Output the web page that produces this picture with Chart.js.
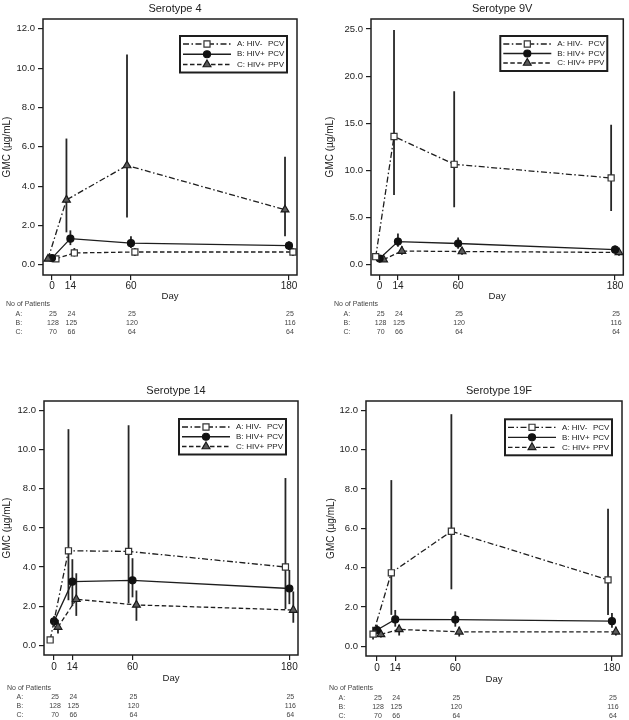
<!DOCTYPE html>
<html>
<head>
<meta charset="utf-8">
<title>GMC by serotype</title>
<script src="https://cdn.jsdelivr.net/npm/chart.js@4.4.1/dist/chart.umd.min.js"></script>
<style>
  html, body { margin:0; padding:0; background:#fff; }
  body { width:629px; height:720px; position:relative; overflow:hidden; }
  canvas { position:absolute; }
</style>
</head>
<body>
<canvas id="chart4" width="312" height="345" style="left:0px;top:0px"></canvas>
<canvas id="chart9V" width="315" height="345" style="left:314px;top:0px"></canvas>
<canvas id="chart14" width="312" height="348" style="left:0px;top:372px"></canvas>
<canvas id="chart19F" width="315" height="348" style="left:314px;top:372px"></canvas>
<script>
// ---------------- data ----------------
const days = [0, 14, 60, 180];
const xTickValues = [0, 14, 60, 180];
const groupNames = ['A: HIV-  PCV', 'B: HIV+  PCV', 'C: HIV+  PPV'];
const tableHeader = 'No of Patients';
const tableRowLabels = ['A:', 'B:', 'C:'];
const patientsA = [25, 24, 25, 25];
const patientsB = [128, 125, 120, 116];
const patientsC = [70, 66, 64, 64];
const yTicks12 = [0, 2, 4, 6, 8, 10, 12];
const yTicks25 = [0, 5, 10, 15, 20, 25];
const yAxisTitle = 'GMC (\u00b5g/mL)';
const xAxisTitle = 'Day';

// Serotype 4
const s4_title = 'Serotype 4';
const s4_gmcA  = [0.30, 3.30, 5.05, 2.80];
const s4_lowA  = [0.24, 1.65, 2.40, 1.45];
const s4_highA = [0.38, 6.42, 10.70, 5.50];
const s4_gmcB  = [0.34, 1.33, 1.10, 0.97];
const s4_lowB  = [0.28, 1.00, 0.85, 0.75];
const s4_highB = [0.42, 1.75, 1.45, 1.20];
const s4_gmcC  = [0.30, 0.60, 0.65, 0.65];
const s4_lowC  = [0.25, 0.42, 0.45, 0.45];
const s4_highC = [0.36, 0.85, 0.85, 0.85];

// Serotype 9V
const s9V_title = 'Serotype 9V';
const s9V_gmcA  = [0.85, 13.60, 10.65, 9.20];
const s9V_lowA  = [0.65, 7.40, 6.10, 5.70];
const s9V_highA = [1.10, 24.90, 18.40, 14.85];
const s9V_gmcB  = [0.65, 2.45, 2.25, 1.60];
const s9V_lowB  = [0.50, 1.90, 1.70, 1.20];
const s9V_highB = [0.80, 3.30, 2.90, 2.05];
const s9V_gmcC  = [0.55, 1.45, 1.40, 1.30];
const s9V_lowC  = [0.45, 1.05, 1.05, 0.95];
const s9V_highC = [0.68, 1.95, 1.80, 1.70];

// Serotype 14
const s14_title = 'Serotype 14';
const s14_gmcA  = [0.27, 4.83, 4.80, 4.00];
const s14_lowA  = [0.20, 2.30, 2.15, 1.85];
const s14_highA = [0.35, 11.05, 11.25, 8.55];
const s14_gmcB  = [1.22, 3.25, 3.32, 2.90];
const s14_lowB  = [0.95, 2.00, 2.45, 2.10];
const s14_highB = [1.50, 4.40, 4.45, 3.85];
const s14_gmcC  = [0.93, 2.35, 2.06, 1.80];
const s14_lowC  = [0.60, 1.50, 1.25, 1.15];
const s14_highC = [1.30, 3.68, 2.80, 2.75];

// Serotype 19F
const s19F_title = 'Serotype 19F';
const s19F_gmcA  = [0.62, 3.74, 5.85, 3.38];
const s19F_lowA  = [0.35, 1.60, 2.90, 1.60];
const s19F_highA = [1.00, 8.45, 11.80, 7.00];
const s19F_gmcB  = [0.83, 1.37, 1.36, 1.28];
const s19F_lowB  = [0.62, 1.00, 1.00, 0.95];
const s19F_highB = [1.10, 1.85, 1.78, 1.70];
const s19F_gmcC  = [0.61, 0.86, 0.74, 0.74];
const s19F_lowC  = [0.45, 0.55, 0.50, 0.55];
const s19F_highC = [0.80, 1.10, 1.00, 1.00];

// ---------------- styles / layout ----------------
const FONT = '"Liberation Sans", Arial, Helvetica, sans-serif';
Chart.defaults.font.family = FONT;
const INK = '#1e1e1e';
const lineDashes = [[6, 2.5, 1.5, 2.5], [], [4.5, 2.5]];
const shiftDays = [-3, 0, 3];
const markerLook = {
  rect:     { radius: 4.3, fill: '#ffffff', stroke: '#333333' },
  circle:   { radius: 3.5, fill: '#111111', stroke: '#111111' },
  triangle: { radius: 4.5, fill: '#5a5a5a', stroke: '#1a1a1a' }
};
const legendMarkers = ['rect', 'circle', 'triangle'];

const panels = [
  { id: 'chart4', title: s4_title, cx: 0, cy: 0, cw: 312, ch: 345, L: 43, T: 19, R: 297, B: 275,
    xMin: -6.8, xMax: 186.1, yMin: -0.52, yMax: 12.5, yTicks: yTicks12, yTitlePad: 1, dayPad: 3, tickPad: 0,
    tableTop: 29.5, legInset: 10, legTop: 17, legH: 36.5, markers: ['triangle', 'circle', 'rect'],
    gmc: [s4_gmcA, s4_gmcB, s4_gmcC], low: [s4_lowA, s4_lowB, s4_lowC], high: [s4_highA, s4_highB, s4_highC] },
  { id: 'chart9V', title: s9V_title, cx: 314, cy: 0, cw: 315, ch: 345, L: 371, T: 19, R: 625, B: 275,
    xMin: -6.6, xMax: 186.3, yMin: -1.09, yMax: 26.06, yTicks: yTicks25, yTitlePad: 10.7, dayPad: 3, tickPad: 0,
    tableTop: 29.5, legInset: 16, legTop: 17, legH: 35, markers: ['rect', 'circle', 'triangle'],
    gmc: [s9V_gmcA, s9V_gmcB, s9V_gmcC], low: [s9V_lowA, s9V_lowB, s9V_lowC], high: [s9V_highA, s9V_highB, s9V_highC] },
  { id: 'chart14', title: s14_title, cx: 0, cy: 372, cw: 312, ch: 348, L: 44, T: 401, R: 298, B: 655,
    xMin: -7.7, xMax: 186.6, yMin: -0.5, yMax: 12.49, yTicks: yTicks12, yTitlePad: 1.3, dayPad: 1, tickPad: 1,
    tableTop: 33, legInset: 12, legTop: 18, legH: 35.5, markers: ['rect', 'circle', 'triangle'],
    gmc: [s14_gmcA, s14_gmcB, s14_gmcC], low: [s14_lowA, s14_lowB, s14_lowC], high: [s14_highA, s14_highB, s14_highC] },
  { id: 'chart19F', title: s19F_title, cx: 314, cy: 372, cw: 315, ch: 348, L: 366, T: 401, R: 622, B: 656,
    xMin: -8.4, xMax: 187.7, yMin: -0.49, yMax: 12.47, yTicks: yTicks12, yTitlePad: 11.7, dayPad: 1, tickPad: 1,
    tableTop: 32.5, legInset: 10, legTop: 18.3, legH: 36, markers: ['rect', 'circle', 'triangle'],
    gmc: [s19F_gmcA, s19F_gmcB, s19F_gmcC], low: [s19F_lowA, s19F_lowB, s19F_lowC], high: [s19F_highA, s19F_highB, s19F_highC] }
];

// ---------------- plugins ----------------
const errorBarPlugin = {
  id: 'errorBars',
  beforeDatasetsDraw(chart) {
    const { ctx, chartArea, scales: { x, y } } = chart;
    ctx.save();
    ctx.beginPath();
    ctx.rect(chartArea.left, chartArea.top, chartArea.right - chartArea.left, chartArea.bottom - chartArea.top);
    ctx.clip();
    ctx.strokeStyle = '#262626';
    ctx.lineWidth = 1.8;
    chart.data.datasets.forEach(ds => {
      ds.data.forEach((p, j) => {
        const px = x.getPixelForValue(p.x);
        ctx.beginPath();
        ctx.moveTo(px, y.getPixelForValue(ds.errLow[j]));
        ctx.lineTo(px, y.getPixelForValue(ds.errHigh[j]));
        ctx.stroke();
      });
    });
    ctx.restore();
  }
};

const framePlugin = {
  id: 'frame',
  afterDatasetsDraw(chart, args, opts) {
    const { ctx, chartArea } = chart;
    ctx.save();
    ctx.strokeStyle = INK;
    ctx.lineWidth = 1.5;
    ctx.strokeRect(chartArea.left, chartArea.top, chartArea.right - chartArea.left, chartArea.bottom - chartArea.top);
    ctx.fillStyle = '#222';
    ctx.font = '11px ' + FONT;
    ctx.textAlign = 'center';
    ctx.textBaseline = 'middle';
    ctx.fillText(opts.title, (chartArea.left + chartArea.right) / 2 + 5, chartArea.top - 10);
    ctx.restore();
  }
};

const groupLegendPlugin = {
  id: 'groupLegend',
  afterDatasetsDraw(chart, args, opts) {
    const { ctx, chartArea } = chart;
    const w = 107, h = opts.h;
    const x0 = chartArea.right - opts.inset - w;
    const y0 = chartArea.top + opts.top;
    ctx.save();
    ctx.fillStyle = '#fff';
    ctx.fillRect(x0, y0, w, h);
    ctx.lineWidth = 2;
    ctx.strokeStyle = INK;
    ctx.strokeRect(x0, y0, w, h);
    groupNames.forEach((name, i) => {
      const yy = y0 + 8 + i * (h - 16) / 2;
      ctx.strokeStyle = INK;
      ctx.lineWidth = 1.3;
      ctx.setLineDash(lineDashes[i]);
      ctx.beginPath();
      ctx.moveTo(x0 + 3, yy);
      ctx.lineTo(x0 + 51, yy);
      ctx.stroke();
      ctx.setLineDash([]);
      const m = legendMarkers[i];
      const look = markerLook[m];
      ctx.fillStyle = look.fill;
      ctx.strokeStyle = look.stroke;
      ctx.lineWidth = 1.2;
      Chart.helpers.drawPoint(ctx, { pointStyle: m, radius: look.radius, borderWidth: 1.2, rotation: 0 }, x0 + 27, yy);
      const parts = name.split('  ');
      ctx.fillStyle = '#222';
      ctx.font = '8px ' + FONT;
      ctx.textAlign = 'left';
      ctx.textBaseline = 'middle';
      ctx.fillText(parts[0], x0 + 57, yy);
      ctx.fillText(parts[1], x0 + 88, yy);
    });
    ctx.restore();
  }
};

const patientTablePlugin = {
  id: 'patientTable',
  afterDraw(chart, args, opts) {
    const { ctx, chartArea, scales: { x } } = chart;
    const top = chartArea.bottom + opts.top;
    ctx.save();
    ctx.fillStyle = '#444';
    ctx.font = '7px ' + FONT;
    ctx.textBaseline = 'middle';
    ctx.textAlign = 'left';
    ctx.fillText(tableHeader, chartArea.left - 37, top);
    [patientsA, patientsB, patientsC].forEach((row, i) => {
      const yy = top + 9.1 * (i + 1);
      ctx.textAlign = 'left';
      ctx.fillText(tableRowLabels[i], chartArea.left - 27.5, yy);
      ctx.textAlign = 'center';
      row.forEach((n, j) => ctx.fillText(String(n), x.getPixelForValue(days[j]) + 1, yy));
    });
    ctx.restore();
  }
};

// ---------------- build charts ----------------
panels.forEach(p => {
  const datasets = [0, 1, 2].map(i => {
    const m = p.markers[i];
    const look = markerLook[m];
    return {
      label: groupNames[i],
      data: days.map((d, j) => ({ x: d + shiftDays[i], y: p.gmc[i][j] })),
      errLow: p.low[i],
      errHigh: p.high[i],
      borderColor: INK,
      borderWidth: 1.3,
      borderDash: lineDashes[i],
      tension: 0,
      fill: false,
      pointStyle: m,
      pointRadius: look.radius,
      pointBackgroundColor: look.fill,
      pointBorderColor: look.stroke,
      pointBorderWidth: 1.2,
      clip: 6
    };
  });

  new Chart(document.getElementById(p.id), {
    type: 'line',
    data: { datasets },
    options: {
      responsive: false,
      animation: false,
      events: [],
      layout: {
        padding: {
          left: 0,
          top: p.T - p.cy,
          right: p.cx + p.cw - p.R,
          bottom: p.cy + p.ch - p.B - 30
        }
      },
      plugins: {
        legend: { display: false },
        tooltip: { enabled: false },
        title: { display: false },
        frame: { title: p.title },
        groupLegend: { inset: p.legInset, top: p.legTop, h: p.legH },
        patientTable: { top: p.tableTop }
      },
      scales: {
        x: {
          type: 'linear',
          min: p.xMin,
          max: p.xMax,
          afterBuildTicks: s => { s.ticks = xTickValues.map(v => ({ value: v })); },
          afterFit: s => { s.height = 30; s.paddingLeft = 0; s.paddingRight = 0; },
          ticks: { autoSkip: false, maxRotation: 0, padding: p.tickPad, color: '#222', font: { size: 10 }, callback: v => String(v) },
          grid: { display: true, drawOnChartArea: false, drawTicks: true, tickLength: 5, color: INK, lineWidth: 1.2 },
          border: { display: false },
          title: { display: true, text: xAxisTitle, color: '#222', font: { size: 9.6 }, padding: { top: 0, bottom: p.dayPad } }
        },
        y: {
          type: 'linear',
          min: p.yMin,
          max: p.yMax,
          afterBuildTicks: s => { s.ticks = p.yTicks.map(v => ({ value: v })); },
          afterFit: s => { s.width = p.L - p.cx; s.paddingTop = 0; s.paddingBottom = 0; },
          ticks: { padding: 3, color: '#222', font: { size: 9.5 }, callback: v => Number(v).toFixed(1) },
          grid: { display: true, drawOnChartArea: false, drawTicks: true, tickLength: 5, color: INK, lineWidth: 1.2 },
          border: { display: false },
          title: { display: true, text: yAxisTitle, color: '#222', font: { size: 10 }, padding: { top: p.yTitlePad, bottom: 0 } }
        }
      }
    },
    plugins: [errorBarPlugin, framePlugin, groupLegendPlugin, patientTablePlugin]
  });
});
</script>
</body>
</html>
